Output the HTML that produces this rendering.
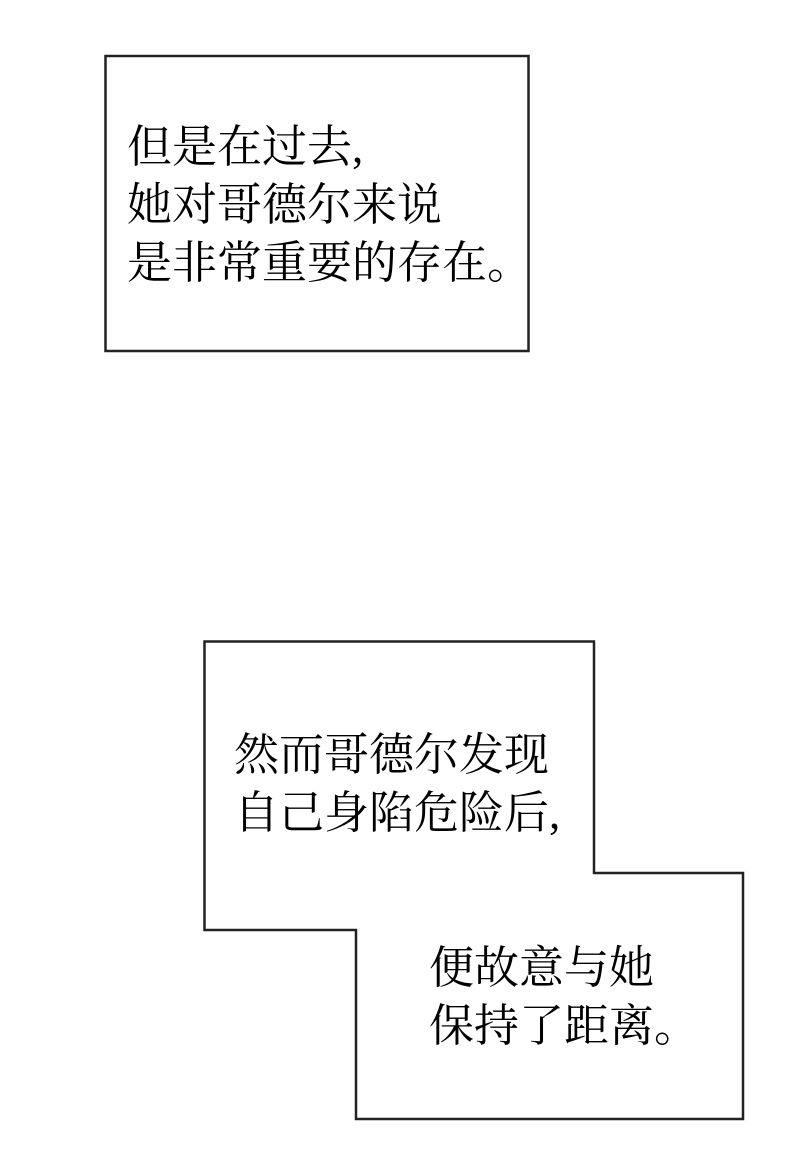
<!DOCTYPE html>
<html><head><meta charset="utf-8"><style>
html,body{margin:0;padding:0;background:#fff;width:800px;height:1163px;overflow:hidden;position:relative}
.t{position:absolute;font-family:"Liberation Serif","Noto Serif CJK SC",serif;font-size:45px;line-height:58px;color:#000;white-space:nowrap;letter-spacing:0}
</style></head><body>
<svg width="800" height="1163" style="position:absolute;left:0;top:0">
<rect x="105.5" y="56" width="423" height="295" fill="#fff" stroke="#222" stroke-width="2.5"/>
<polygon points="204.5,641.5 594,641.5 594,873 743,873 743,1119 356,1119 356,930 204.5,930" fill="#fff" stroke="#222" stroke-width="2.5"/>
</svg>
<div class="t" style="left:127px;top:118px">但是在过去,<br>她对哥德尔来说<br>是非常重要的存在。</div>
<div class="t" style="left:234px;top:726px">然而哥德尔发现<br>自己身陷危险后,</div>
<div class="t" style="left:429px;top:939px">便故意与她<br>保持了距离。</div>
</body></html>
